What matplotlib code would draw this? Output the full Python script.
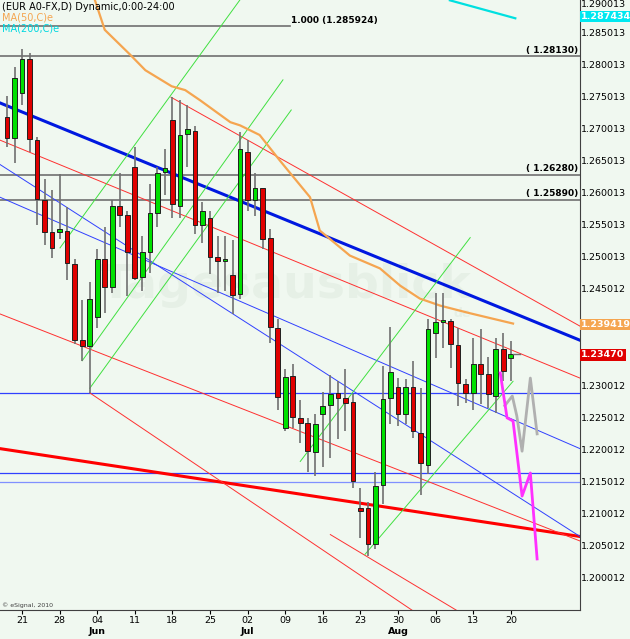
import matplotlib
matplotlib.use("Agg")
import matplotlib.pyplot as plt
import numpy as np

# daily candles, index 0 = 19 May 2010 (tick "21" sits at index 2)
opens = [1.2718, 1.2685, 1.2755, 1.2809, 1.2682, 1.2588, 1.2538, 1.2538, 1.2541, 1.2489,
         1.2370, 1.2361, 1.2406, 1.2497, 1.2453, 1.2579, 1.2565, 1.2640, 1.2469, 1.2507,
         1.2568, 1.2632, 1.2713, 1.2579, 1.2691, 1.2696, 1.2550, 1.2561, 1.2500, 1.2494,
         1.2472, 1.2442, 1.2663, 1.2588, 1.2608, 1.2530, 1.2389, 1.2233, 1.2314, 1.2248,
         1.2241, 1.2195, 1.2255, 1.2269, 1.2288, 1.2280, 1.2273, 1.2108, 1.2108, 1.2053,
         1.2144, 1.2280, 1.2297, 1.2255, 1.2297, 1.2225, 1.2176, 1.2381, 1.2399, 1.2400,
         1.2363, 1.2302, 1.2288, 1.2333, 1.2317, 1.2283, 1.2356, 1.2342]
highs = [1.2751, 1.2796, 1.2824, 1.2818, 1.2687, 1.2622, 1.2605, 1.2629, 1.2577, 1.2496,
         1.2432, 1.2461, 1.2513, 1.2546, 1.2588, 1.2630, 1.2572, 1.2671, 1.2533, 1.2613,
         1.2640, 1.2668, 1.2749, 1.2744, 1.2737, 1.2704, 1.2585, 1.2571, 1.2533, 1.2533,
         1.2527, 1.2694, 1.2682, 1.2630, 1.2608, 1.2543, 1.2403, 1.2325, 1.2333, 1.2277,
         1.2248, 1.2255, 1.2289, 1.2316, 1.2306, 1.2325, 1.2286, 1.2139, 1.2118, 1.2165,
         1.2330, 1.2391, 1.2311, 1.2309, 1.2338, 1.2295, 1.2403, 1.2444, 1.2444, 1.2403,
         1.2389, 1.2309, 1.2374, 1.2388, 1.2344, 1.2374, 1.2381, 1.2369]
lows = [1.2671, 1.2646, 1.2737, 1.2663, 1.2549, 1.2519, 1.2499, 1.2528, 1.2464, 1.2364,
        1.2338, 1.2288, 1.2389, 1.2413, 1.2444, 1.2546, 1.2439, 1.2464, 1.2447, 1.2475,
        1.2546, 1.2596, 1.2561, 1.2561, 1.2640, 1.2535, 1.2522, 1.2474, 1.2444, 1.2447,
        1.2411, 1.2435, 1.2572, 1.2563, 1.2513, 1.2366, 1.2261, 1.2228, 1.2233, 1.2209,
        1.2164, 1.2159, 1.2173, 1.2186, 1.2216, 1.2228, 1.2139, 1.2061, 1.2034, 1.2045,
        1.2114, 1.2239, 1.2236, 1.2239, 1.2217, 1.2129, 1.2162, 1.2342, 1.2358, 1.2327,
        1.2267, 1.2272, 1.2262, 1.2270, 1.2264, 1.2256, 1.2306, 1.2306]
closes = [1.2685, 1.2779, 1.2809, 1.2683, 1.2590, 1.2538, 1.2514, 1.2543, 1.2491, 1.2370,
          1.2361, 1.2435, 1.2497, 1.2453, 1.2580, 1.2566, 1.2507, 1.2467, 1.2507, 1.2568,
          1.2630, 1.2638, 1.2582, 1.2690, 1.2699, 1.2550, 1.2571, 1.2500, 1.2494, 1.2494,
          1.2441, 1.2668, 1.2588, 1.2608, 1.2528, 1.2391, 1.2281, 1.2313, 1.2250, 1.2241,
          1.2198, 1.2239, 1.2267, 1.2286, 1.2280, 1.2272, 1.2151, 1.2104, 1.2053, 1.2142,
          1.2278, 1.2320, 1.2255, 1.2297, 1.2228, 1.2178, 1.2388, 1.2399, 1.2399, 1.2364,
          1.2303, 1.2288, 1.2333, 1.2317, 1.2286, 1.2356, 1.2322, 1.2348]

day_ticks = [2, 7, 12, 17, 22, 27, 32, 37, 42, 47, 52, 57, 62, 67]
day_labels = ["21", "28", "04", "11", "18", "25", "02", "09", "16", "23", "30", "06", "13", "20"]
months = [("Jun", 12), ("Jul", 32), ("Aug", 52)]

ma50_x = [11.7, 13.0, 16.4, 18.4, 21.9, 23.7, 25.7, 29.7, 31.0, 33.6, 36.3, 40.3, 41.6, 45.6,
          49.6, 52.3, 54.9, 57.6, 61.6, 67.3]
ma50_y = [1.2900, 1.2854, 1.2815, 1.2791, 1.2766, 1.2760, 1.2744, 1.2710, 1.2705, 1.2690,
          1.2650, 1.2593, 1.2541, 1.2502, 1.2482, 1.2455, 1.2435, 1.2424, 1.2412, 1.2396]
ma200_x = [58.9, 67.6]
ma200_y = [1.2900, 1.2872]

proj_x = [65.6, 66.5, 67.3, 68.5, 69.6, 70.5]
proj_y = [1.2319, 1.2249, 1.2244, 1.2127, 1.2163, 1.2029]
alt_x = [66.2, 67.2, 67.8, 68.5, 69.6, 70.5]
alt_y = [1.2268, 1.2283, 1.2252, 1.2197, 1.2311, 1.2224]

# trend lines: (x0, y0, x1, y1, colour, width)
trend_lines = [
    (-0.93, 1.2740, 76.2, 1.2370, "#0018e0", 2.2),
    (-0.93, 1.2201, 76.2, 1.2064, "#ff0000", 2.2),
    (-0.93, 1.2593, 76.2, 1.2201, "#3040ff", 0.7),
    (-0.93, 1.2644, 76.2, 1.2064, "#3040ff", 0.7),
    (21.8, 1.2749, 76.2, 1.2392, "#ff3030", 0.7),
    (-0.93, 1.2682, 76.2, 1.2311, "#ff3030", 0.7),
    (-0.93, 1.2411, 76.2, 1.2057, "#ff3030", 0.7),
    (11.0, 1.2288, 60.2, 1.1899, "#ff3030", 0.7),
    (43.0, 1.2067, 60.2, 1.1946, "#ff3030", 0.7),
    (7.05, 1.2514, 31.0, 1.2901, "#40e040", 0.7),
    (10.0, 1.2338, 36.7, 1.2776, "#40e040", 0.7),
    (11.0, 1.2295, 37.8, 1.2729, "#40e040", 0.7),
    (47.6, 1.2036, 67.3, 1.2306, "#40e040", 0.7),
    (39.0, 1.2181, 61.6, 1.2530, "#40e040", 0.7),
]
gray_levels = [1.2813, 1.2628, 1.2589]
gray_labels = ["( 1.28130)", "( 1.26280)", "( 1.25890)"]
blue_levels = [1.2288, 1.2163, 1.2149]

bg = "#f0f8f0"
fig = plt.figure(figsize=(6.3, 6.39), dpi=100, facecolor=bg)
ax = fig.add_axes([0, 0.045, 0.9206, 0.955], facecolor=bg)
x0, x1 = -0.93, 76.2
ax.set_xlim(x0, x1)
ax.set_ylim(1.19490, 1.29005)

ax.text(37, 1.2455, "Tagesausblick", fontsize=34, fontweight="bold", color="#e6f0e6",
        ha="center", va="center", zorder=0)
ax.text(60.5, 1.2412, "de", fontsize=9, fontweight="bold", color="#e6f0e6",
        ha="center", va="center", zorder=0)

for lv, lb in zip(gray_levels, gray_labels):
    ax.axhline(lv, color="#707070", lw=1.2, zorder=1)
    ax.text(69.0, lv + 0.0002, lb, fontsize=6.5, fontweight="bold", va="bottom", zorder=5)
ax.plot([x0, 37.6], [1.285924, 1.285924], color="#707070", lw=1.2, zorder=1)
ax.text(37.8, 1.2861, "1.000 (1.285924)", fontsize=6.5, fontweight="bold", va="bottom")
for i, lv in enumerate(blue_levels):
    ax.axhline(lv, color="#3040ff" if i < 2 else "#8090ff", lw=0.9, zorder=1)

for xa, ya, xb, yb, c, w in trend_lines:
    ax.plot([xa, xb], [ya, yb], color=c, lw=w, zorder=2)

ax.plot(ma50_x, ma50_y, color="#f5a550", lw=1.6, zorder=3)
ax.plot(ma200_x, ma200_y, color="#00e0e0", lw=1.6, zorder=3)

xs = np.arange(len(opens))
ax.vlines(xs, lows, highs, color="#707070", lw=1.2, zorder=4)
for i in xs:
    o, c = opens[i], closes[i]
    col = "#00e000" if c >= o else "#e00000"
    h = max(abs(c - o), 0.0002)
    ax.bar(i, h, bottom=min(o, c), width=0.62, color=col, edgecolor="#202020", lw=0.7, zorder=5)
ax.plot([67.3, 68.2], [1.2348, 1.2348], color="#707070", lw=1, zorder=5)

ax.plot(alt_x, alt_y, color="#b0b0b0", lw=2, zorder=6)
ax.plot(proj_x, proj_y, color="#ff30ff", lw=2, zorder=6)

# axes styling
for s in ["top", "left"]:
    ax.spines[s].set_visible(False)
ax.spines["right"].set_color("#404040")
ax.spines["bottom"].set_color("#404040")
ax.yaxis.tick_right()
yt = [1.200012 + 0.005 * k for k in range(19)]
ax.set_yticks(yt)
labels = [f"{v:.6f}" if v < 1.2476 else f"{v + 0.000001:.6f}" for v in yt]
labels = ["" if l in ("1.240012", "1.235012") else l for l in labels]
ax.set_yticklabels(labels, fontsize=6.8)
ax.get_yticklabels()[-1].set_va("top")
ax.tick_params(axis="y", length=0, pad=1)
ax.set_xticks(day_ticks)
ax.set_xticklabels(day_labels, fontsize=6.8)
ax.tick_params(axis="x", length=3, pad=1)
for name, d in months:
    ax.text(d, -0.027, name, transform=ax.get_xaxis_transform(), fontsize=6.8,
            fontweight="bold", ha="center", va="top")

for val, txt, fc in [(1.287434, "1.287434", "#00e8f0"), (1.239419, "1.239419", "#f5a550"),
                     (1.2347, "1.23470", "#e00000")]:
    ax.text(1.002, val, txt, transform=ax.get_yaxis_transform(), fontsize=6.8, color="white",
            fontweight="bold", va="center", ha="left",
            bbox=dict(boxstyle="square,pad=0.12", fc=fc, ec="none"), zorder=10, clip_on=False)

ax.text(0.003, 0.997, "(EUR A0-FX,D) Dynamic,0:00-24:00", transform=ax.transAxes,
        fontsize=7, va="top")
ax.text(0.003, 0.979, "MA(50,C)e", transform=ax.transAxes, fontsize=7, va="top", color="#f5a550")
ax.text(0.003, 0.962, "MA(200,C)e", transform=ax.transAxes, fontsize=7, va="top", color="#00d8e0")
ax.text(0.003, 0.003, "© eSignal, 2010", transform=ax.transAxes, fontsize=4.5, va="bottom", color="#404040")

fig.savefig("out.png", dpi=100, facecolor=bg)
